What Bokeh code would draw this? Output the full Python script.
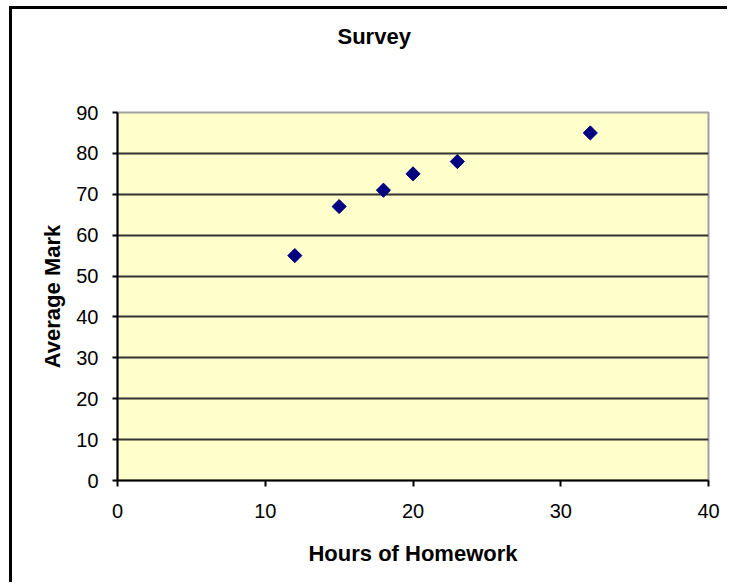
import numpy as np
from bokeh.plotting import figure
from bokeh.models import Title, FixedTicker
from bokeh.embed import file_html
from bokeh.resources import INLINE

hours = [12, 15, 18, 20, 23, 32]
marks = [55, 67, 71, 75, 78, 85]
x_ticks = [0, 10, 20, 30, 40]
y_ticks = [0, 10, 20, 30, 40, 50, 60, 70, 80, 90]
title_text = "Survey"

FONT = "Liberation Sans"

p = figure(width=718, height=576, x_range=(0, 40), y_range=(0, 90),
           output_backend="svg", toolbar_location=None,
           min_border_left=105, min_border_right=22,
           min_border_top=103, min_border_bottom=105)
p.styles = {"border-left": "3px solid black", "border-top": "3px solid black",
            "margin-left": "9px", "margin-top": "6px"}

p.background_fill_color = "#FFFFCC"
p.border_fill_color = "white"
p.outline_line_color = "#a0a0a0"
p.outline_line_width = 2

p.title.text = title_text
p.title.align = "left"
p.title.offset = 220
p.title.standoff = 22
p.title.text_font = FONT
p.title.text_font_size = "22px"
p.title.text_font_style = "bold"
p.title.text_color = "black"

spacer = Title(text=" ", text_font_size="1px", standoff=50)
p.add_layout(spacer, "above")

p.scatter(hours, marks, marker="square", angle=np.pi / 4, size=10,
          fill_color="#000080", line_color="#000080")

p.xgrid.grid_line_color = None
p.ygrid.grid_line_color = "#333333"
p.ygrid.grid_line_width = 2
p.ygrid.ticker = FixedTicker(ticks=y_ticks)

p.xaxis.ticker = FixedTicker(ticks=x_ticks)
p.yaxis.ticker = FixedTicker(ticks=y_ticks)

for ax in (p.xaxis, p.yaxis):
    ax.axis_line_color = "black"
    ax.axis_line_width = 2
    ax.major_tick_line_color = "black"
    ax.major_tick_line_width = 2
    ax.major_tick_in = 0
    ax.minor_tick_line_color = None
    ax.major_label_text_font = FONT
    ax.major_label_text_font_size = "20px"
    ax.major_label_text_color = "black"
    ax.axis_label_text_font = FONT
    ax.axis_label_text_font_size = "22px"
    ax.axis_label_text_font_style = "bold"
    ax.axis_label_text_color = "black"

p.xaxis.major_tick_out = 6
p.yaxis.major_tick_out = 5
p.xaxis.major_label_standoff = 17
p.yaxis.major_label_standoff = 14
p.xaxis.axis_label = "Hours of Homework"
p.yaxis.axis_label = "Average Mark"
p.xaxis.axis_label_standoff = 20
p.yaxis.axis_label_standoff = 8

open("out.html", "w").write(file_html(p, INLINE))
